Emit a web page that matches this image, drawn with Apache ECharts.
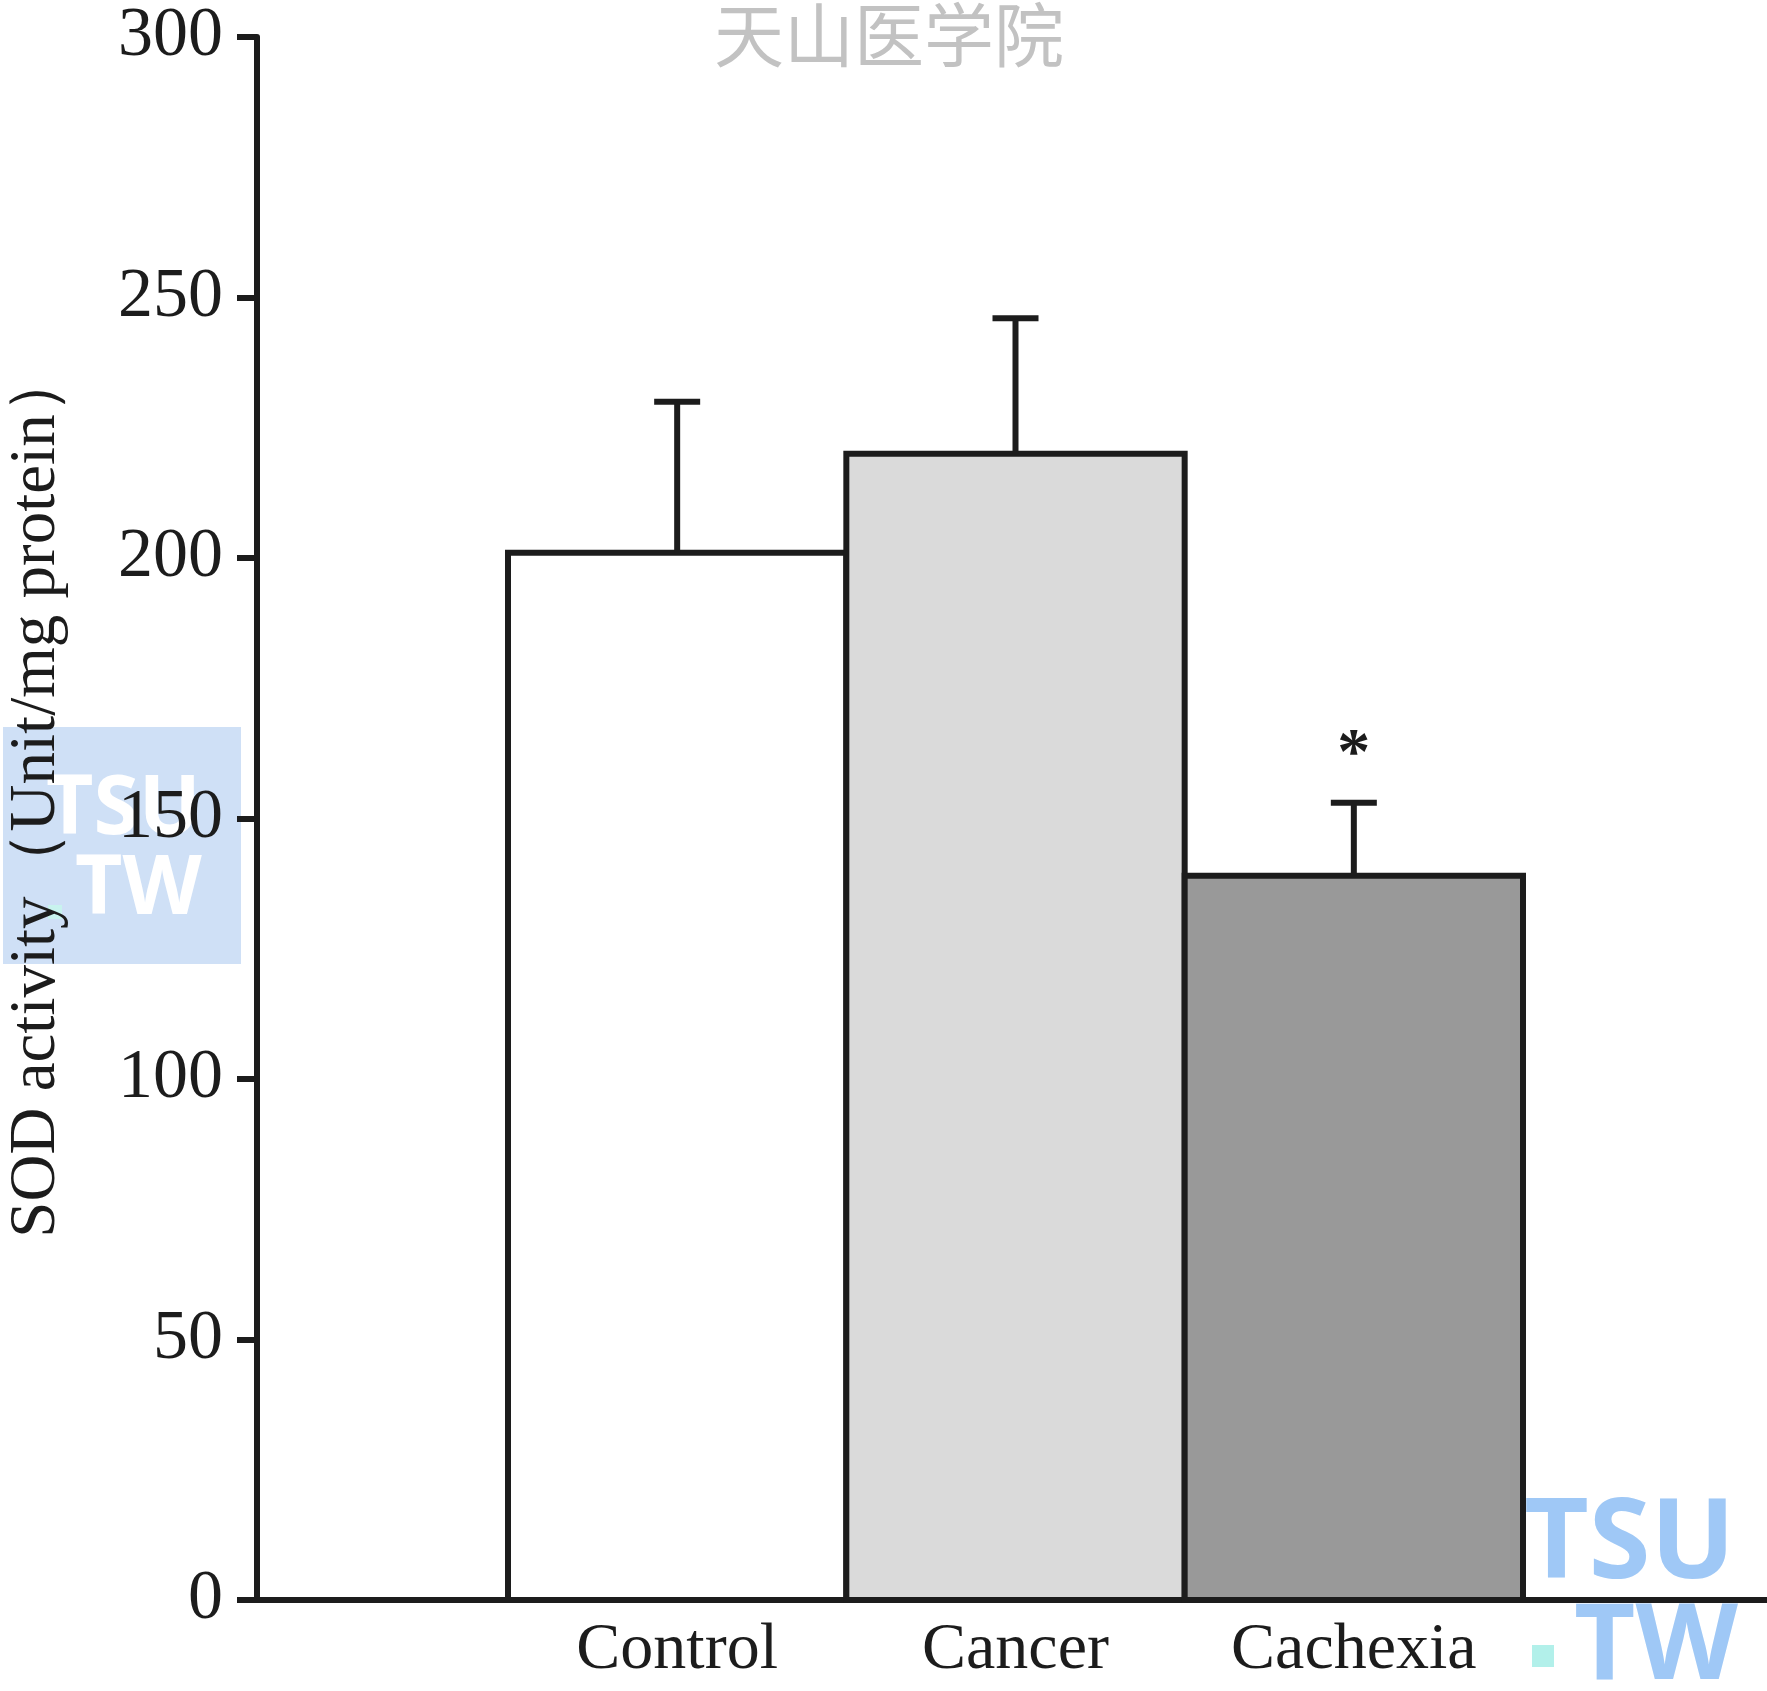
<!DOCTYPE html>
<html>
<head>
<meta charset="utf-8">
<script src="https://cdn.jsdelivr.net/npm/echarts@6/dist/echarts.min.js"></script>
<style>
html,body{margin:0;padding:0;background:#fff;}
#chart{width:1767px;height:1691px;}
</style>
</head>
<body>
<div id="chart"></div>
<script>
const categories = ['Control', 'Cancer', 'Cachexia'];
const meanValues = [201, 220, 139];
const errorTops = [230, 246, 153];
const significance = ['', '', '*'];
const barColors = ['#ffffff', '#dadada', '#999999'];
const yMin = 0, yMax = 300, yInterval = 50;
const yAxisTitle = 'SOD activity（Unit/mg protein）';

const ink = '#1c1c1c';
const serif = '"Liberation Serif", "Times New Roman", serif';
const lw = 6;

const chart = echarts.init(document.getElementById('chart'));

const barData = categories.map((c, i) => [i, meanValues[i]]);
const errData = categories.map((c, i) => [i, meanValues[i], errorTops[i], significance[i]]);

chart.setOption({
  backgroundColor: '#ffffff',
  animation: false,
  graphic: [
    {type: 'rect', left: 3, top: 727, shape: {width: 238, height: 237}, style: {fill: '#cfe0f6'}, z: -10},
    {type: 'text', left: 46, top: 770, style: {text: 'TSU', fill: '#ffffff', font: 'bold 82px "Open Sans", sans-serif'}, z: -9},
    {type: 'rect', left: 48, top: 905, shape: {width: 14, height: 14}, style: {fill: '#c8f3ee'}, z: -9},
    {type: 'text', left: 75, top: 850, style: {text: 'TW', fill: '#ffffff', font: 'bold 82px "Open Sans", sans-serif'}, z: -9},
    {type: 'text', left: 1524, top: 1490, style: {text: 'TSU', fill: '#9fc8f6', font: 'bold 112px "Open Sans", sans-serif'}, z: -5},
    {type: 'rect', left: 1532, top: 1645, shape: {width: 22, height: 22}, style: {fill: '#b2f0ea'}, z: -5},
    {type: 'text', left: 1574, top: 1596, style: {text: 'TW', fill: '#9fc8f6', font: 'bold 106px "Open Sans", sans-serif'}, z: -5},
    {type: 'text', left: 714, top: 0, style: {text: '天山医学院', fill: '#c2c2c2', font: '70px "Noto Sans CJK SC", sans-serif'}, z: 10}
  ],
  grid: [
    {left: 257, right: 0, top: 37, bottom: 91, containLabel: false, outerBoundsMode: 'none'},
    {left: 508, right: 244, top: 37, bottom: 91, containLabel: false, outerBoundsMode: 'none'}
  ],
  xAxis: [
    {
      gridIndex: 0, type: 'value', min: 0, max: 1,
      axisLine: {show: true, onZero: false, lineStyle: {color: ink, width: lw}},
      axisTick: {show: false}, axisLabel: {show: false}, splitLine: {show: false}
    },
    {
      gridIndex: 1, type: 'category', data: categories,
      axisLine: {show: false}, axisTick: {show: false}, splitLine: {show: false},
      axisLabel: {color: ink, fontFamily: serif, fontSize: 66, margin: 18}
    }
  ],
  yAxis: [
    {
      gridIndex: 0, type: 'value', min: yMin, max: yMax, interval: yInterval,
      name: yAxisTitle, nameLocation: 'middle', nameGap: 188, nameRotate: 90,
      nameTextStyle: {color: ink, fontFamily: serif, fontSize: 65, padding: [0, 0, 0, 50]},
      axisLine: {show: true, lineStyle: {color: ink, width: lw}},
      axisTick: {show: true, length: 20, lineStyle: {color: ink, width: lw}},
      axisLabel: {color: ink, fontFamily: serif, fontSize: 70, margin: 34},
      splitLine: {show: false}
    },
    {
      gridIndex: 1, type: 'value', min: yMin, max: yMax, interval: yInterval,
      show: false, splitLine: {show: false}
    }
  ],
  series: [
    {
      type: 'custom', xAxisIndex: 1, yAxisIndex: 1,
      data: barData,
      encode: {x: 0, y: 1},
      z: 2,
      renderItem: function (params, api) {
        const i = api.value(0);
        const top = api.coord([i, api.value(1)]);
        const base = api.coord([i, 0]);
        const bw = api.size([1, 0])[0];
        return {
          type: 'rect',
          shape: {x: top[0] - bw / 2, y: top[1], width: bw, height: base[1] - top[1]},
          style: {fill: barColors[params.dataIndex], stroke: ink, lineWidth: lw}
        };
      }
    },
    {
      type: 'custom', xAxisIndex: 1, yAxisIndex: 1,
      data: errData,
      encode: {x: 0, y: [1, 2]},
      z: 3,
      renderItem: function (params, api) {
        const i = api.value(0);
        const base = api.coord([i, api.value(1)]);
        const top = api.coord([i, api.value(2)]);
        const half = 23;
        const children = [
          {type: 'line', shape: {x1: base[0], y1: base[1], x2: top[0], y2: top[1]}, style: {stroke: ink, lineWidth: lw}},
          {type: 'line', shape: {x1: top[0] - half, y1: top[1], x2: top[0] + half, y2: top[1]}, style: {stroke: ink, lineWidth: lw}}
        ];
        const mark = significance[params.dataIndex];
        if (mark) {
          children.push({type: 'text', x: top[0], y: top[1] - 47, style: {text: mark, fill: ink, font: 'bold 66px ' + serif, align: 'center', verticalAlign: 'middle'}});
        }
        return {type: 'group', children: children};
      }
    }
  ]
});
</script>
</body>
</html>
